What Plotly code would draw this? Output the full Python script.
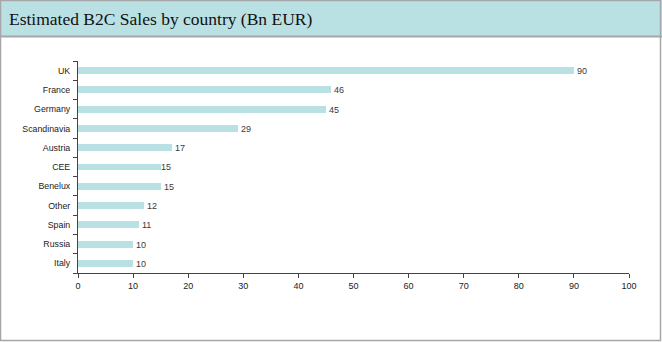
import plotly.graph_objects as go

# Estimated B2C e-commerce sales by country, billions of EUR
countries = ["UK", "France", "Germany", "Scandinavia", "Austria", "CEE",
             "Benelux", "Other", "Spain", "Russia", "Italy"]
sales_bn_eur = [90, 46, 45, 29, 17, 15, 15, 12, 11, 10, 10]
x_ticks = [0, 10, 20, 30, 40, 50, 60, 70, 80, 90, 100]

W, H = 662, 342
L, R, T, B = 78, 33, 61, 69
plot_h = H - T - B
plot_w = W - L - R


def py(pixel_y):
    """Convert a pixel row (from the top of the page) to paper y."""
    return (H - B - pixel_y) / plot_h


def px(pixel_x):
    return (pixel_x - L) / plot_w


fig = go.Figure(go.Bar(
    x=sales_bn_eur,
    y=countries,
    orientation="h",
    width=0.36,
    marker=dict(color="#b9e0e3", line=dict(width=0)),
    text=[str(v) for v in sales_bn_eur],
    textposition="outside",
    constraintext="none",
    textfont=dict(family="Liberation Sans, Arial", size=9, color="#3a3a3a"),
    cliponaxis=False,
    hoverinfo="skip",
))

shapes = [
    # header band
    dict(type="rect", xref="paper", yref="paper",
         x0=px(0), x1=px(W), y0=py(36.5), y1=py(0),
         fillcolor="#b9e0e3", line=dict(width=0), layer="below"),
    # header bottom rule
    dict(type="line", xref="paper", yref="paper",
         x0=px(0), x1=px(W), y0=py(36.5), y1=py(36.5),
         line=dict(color="#a6a6a6", width=2)),
    # outer frame
    dict(type="rect", xref="paper", yref="paper",
         x0=px(0.5), x1=px(W - 1.5), y0=py(H - 1.5), y1=py(0.5),
         line=dict(color="#a6a6a6", width=1.5), fillcolor="rgba(0,0,0,0)"),
]

fig.update_layout(
    width=W, height=H,
    margin=dict(l=L, r=R, t=T, b=B, pad=0),
    paper_bgcolor="white",
    plot_bgcolor="white",
    showlegend=False,
    shapes=shapes,
    bargap=0,
    annotations=[dict(
        text="Estimated B2C Sales by country (Bn EUR)",
        xref="paper", yref="paper", x=px(7), y=py(19),
        xanchor="left", yanchor="middle", showarrow=False,
        font=dict(family="Liberation Serif, Times New Roman", size=17.5, color="#111111"),
    )],
    xaxis=dict(
        range=[0, 100],
        tickvals=x_ticks,
        ticktext=[str(t) for t in x_ticks],
        showgrid=False, zeroline=False,
        showline=True, linecolor="#444444", linewidth=1,
        ticks="outside", ticklen=4, tickcolor="#444444", tickwidth=1,
        tickfont=dict(family="Liberation Sans, Arial", size=9, color="#222222"),
        fixedrange=True,
    ),
    yaxis=dict(
        categoryorder="array",
        categoryarray=countries[::-1],
        range=[-0.5, len(countries) - 0.5],
        showgrid=False, zeroline=False,
        showline=True, linecolor="#444444", linewidth=1,
        ticks="outside", tickson="boundaries", ticklen=4,
        tickcolor="#444444", tickwidth=1,
        ticklabelstandoff=5,
        tickfont=dict(family="Liberation Sans, Arial", size=8.8, color="#222222"),
        fixedrange=True,
    ),
)

fig.write_html("out.html", config={"displayModeBar": False})
